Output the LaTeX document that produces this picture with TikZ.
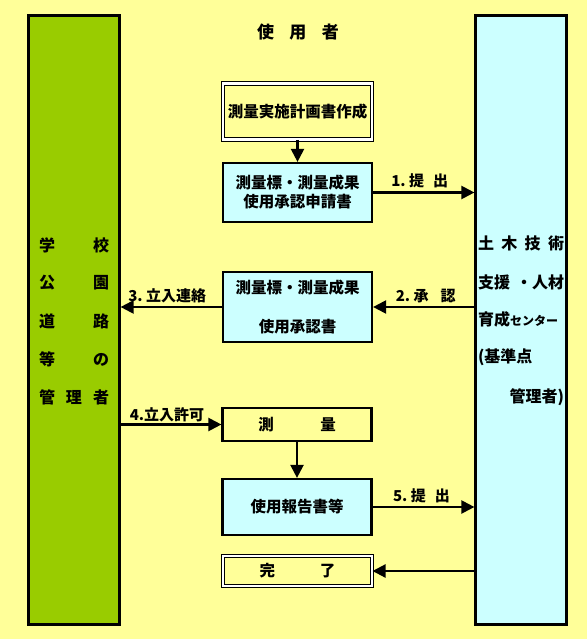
\documentclass[tikz,border=0pt]{standalone}
\usepackage{fontspec}
\setmainfont{Noto Sans CJK JP}
\usepackage{xcolor}
\usepackage{tikz}
\usetikzlibrary{arrows.meta, positioning}

\definecolor{bgyellow}{HTML}{FFFF99}
\definecolor{bargreen}{HTML}{99CC00}
\definecolor{barcyan}{HTML}{CCFFFF}

\begin{document}
\begin{tikzpicture}[x=1pt, y=-1pt,
  box/.style={draw, line width=2.2pt, align=center, inner sep=0pt,
              font=\bfseries\fontsize{15.5}{19}\selectfont, minimum width=149pt},
  docbox/.style={box, fill=barcyan},
  plainbox/.style={box, fill=bgyellow},
  dblbox/.style={box, double, double distance=2.2pt, line width=1pt, fill=bgyellow},
  bar/.style={draw, line width=2.2pt, minimum width=91pt, minimum height=609pt, inner sep=0pt},
  arr/.style={-{Triangle[length=13pt, width=13pt]}, line width=2.2pt},
  lbl/.style={font=\bfseries\fontsize{15}{16}\selectfont, inner sep=3pt},
  row/.style={font=\bfseries\fontsize{16}{17}\selectfont, align=left, inner sep=0pt},
]
  % background and page size
  \fill[bgyellow] (0,0) rectangle (587,639);
  \useasboundingbox (0,0) rectangle (587,639);

  % the two sides
  \node[bar, fill=bargreen] (lbar) at (74,320) {};
  \node[bar, fill=barcyan]  (rbar) at (521,320) {};

  \node[font=\bfseries\fontsize{17}{18}\selectfont] (user) at (298,32)
        {使\hspace{0.9em}用\hspace{0.9em}者};

  % managers (left)
  \node[row, text width=70pt] (l1) at (74,245) {学\hfill 校};
  \node[row, text width=70pt] (l2) at (74,283) {公\hfill 園};
  \node[row, text width=70pt] (l3) at (74,321) {道\hfill 路};
  \node[row, text width=70pt] (l4) at (74,359) {等\hfill の};
  \node[row, text width=70pt] (l5) at (74,397) {管\hfill 理\hfill 者};

  % centre (right)
  \node[row, text width=86pt] (r1) at (521,243) {土\hfill 木\hfill 技\hfill 術};
  \node[row, text width=86pt] (r2) at (521,282) {支援\hfill ・人材};
  \node[row, text width=86pt] (r3) at (521,319) {育成{\fontsize{12}{14}\selectfont センター}};
  \node[row, text width=86pt] (r4) at (521,357) {(基準点};
  \node[row, text width=86pt] (r5) at (521,397) {\hfill 管理者)};

  % steps of the user
  \node[dblbox, minimum height=56pt] (plan) at (297.5,111.5) {測量実施計画書作成};
  \node[docbox, minimum height=59pt] (apply) at (297.5,192.5)
        {測量標・測量成果\\使用承認申請書};
  \node[docbox, minimum height=70pt] (approve) at (297.5,307)
        {測量標・測量成果\\[20pt]使用承認書};
  \node[plainbox, minimum height=33pt] (survey) at (297,424.5) {測\hspace{3em}量};
  \node[docbox, minimum height=56pt] (report) at (297,507) {使用報告書等};
  \node[dblbox, minimum height=30pt] (done) at (297.5,571) {完\hspace{2.9em}了};

  \draw[arr] (plan) -- (apply);
  \draw[arr] (apply.east) -- node[lbl, above, xshift=-4pt]{1.\ 提\hspace{0.6em}出} (apply.east -| rbar.west);
  \draw[arr] (approve.east -| rbar.west) -- node[lbl, above, xshift=2pt]{2.\ 承\hspace{0.8em}認} (approve.east);
  \draw[arr] (approve.west) -- node[lbl, above, xshift=-4pt]{3.\ 立入連絡} (approve.west -| lbar.east);
  \draw[arr] (lbar.east |- survey.west) -- node[lbl, above, inner sep=1pt, xshift=-4pt]{4.立入許可} (survey.west);
  \draw[arr] (survey) -- (report);
  \draw[arr] (report.east) -- node[lbl, above, xshift=-2pt]{5.\ 提\hspace{0.6em}出} (report.east -| rbar.west);
  \draw[arr] (done.east -| rbar.west) -- (done.east);
\end{tikzpicture}
\end{document}
